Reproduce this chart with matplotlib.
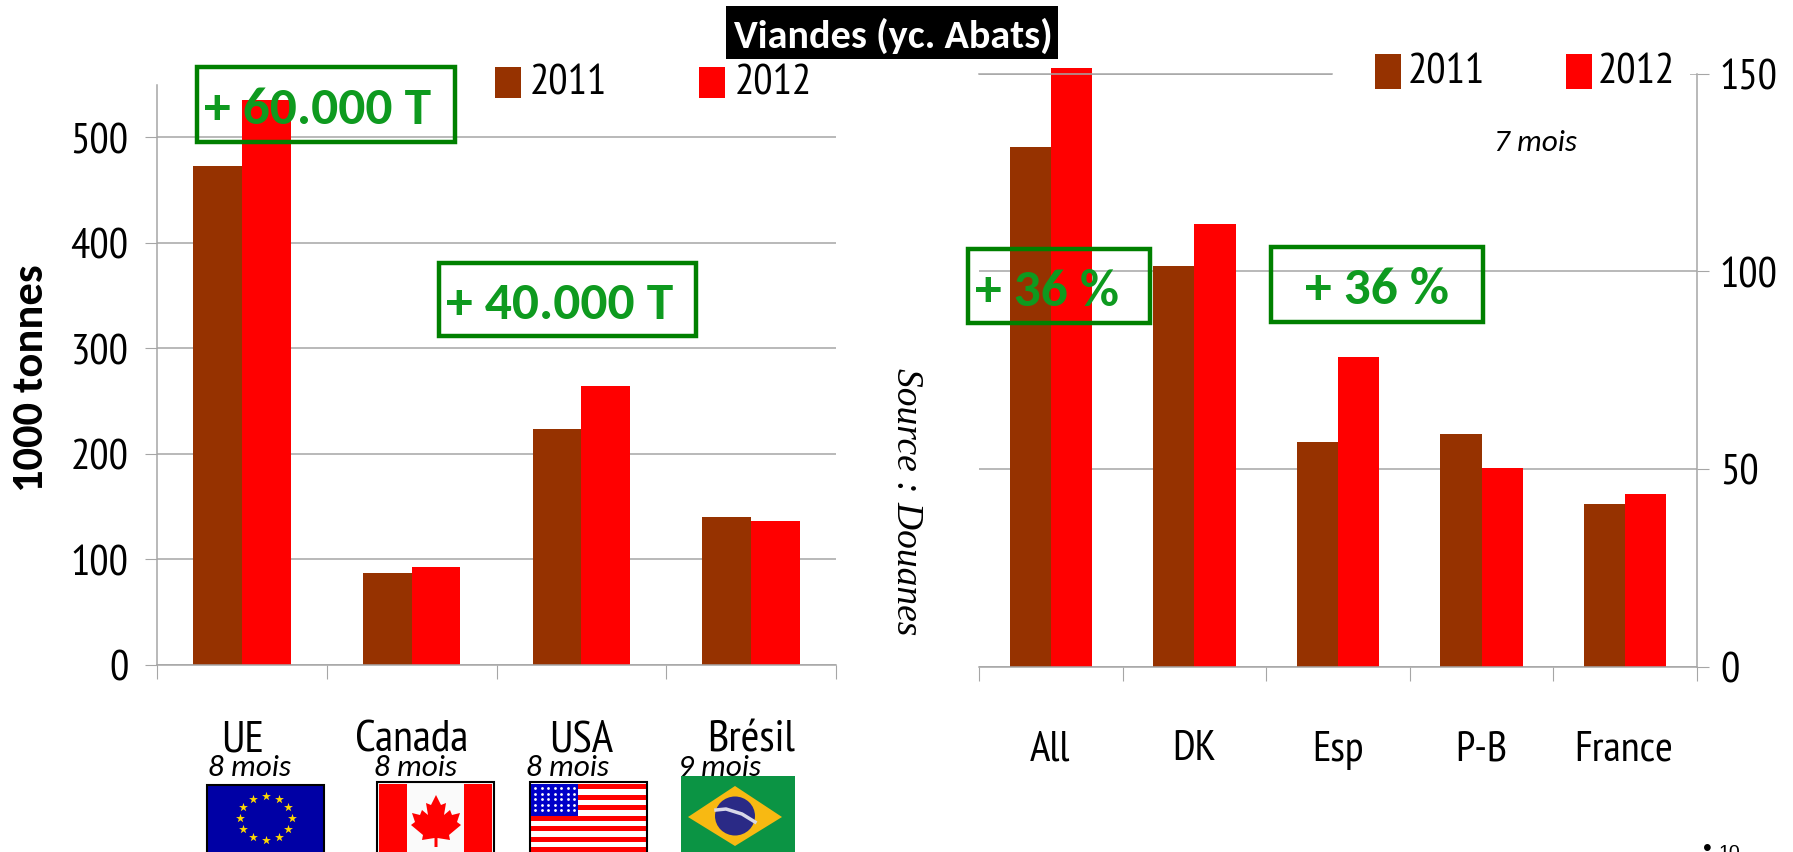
import numpy as np
import matplotlib
matplotlib.use('Agg')
import matplotlib.pyplot as plt
from matplotlib.patches import Rectangle, Polygon, Ellipse

NARROW = ['PT Sans Narrow', 'Liberation Sans', 'DejaVu Sans']
CALIBRI = ['Carlito', 'Open Sans', 'DejaVu Sans']
plt.rcParams['font.family'] = NARROW

# Data
countries = ['UE', 'Canada', 'USA', 'Brésil']
world_2011 = [473, 87, 224, 140]
world_2012 = [535, 93, 264, 136]
world_ticks = [0, 100, 200, 300, 400, 500]

origins = ['All', 'DK', 'Esp', 'P-B', 'France']
eu_2011 = [131.5, 101.3, 56.8, 58.8, 41.1]
eu_2012 = [151.5, 112, 78.2, 50.1, 43.7]
eu_ticks = [0, 50, 100, 150]

BROWN = '#963200'
RED = '#ff0000'
GREEN = '#0e9a1f'
BOX = '#008000'
GREY = '#a6a6a6'
W, H = 1793, 853

fig = plt.figure(figsize=(W / 100, H / 100), dpi=100, facecolor='white')


def make_axes(x0, x1, y_zero, y_top):
    return fig.add_axes([x0 / W, 1 - y_zero / H, (x1 - x0) / W, (y_zero - y_top) / H])


def style_axes(ax):
    for s in ['top', 'right', 'left', 'bottom']:
        ax.spines[s].set_color(GREY)
        ax.spines[s].set_linewidth(1.1)
    ax.spines['top'].set_visible(False)
    ax.grid(axis='y', color=GREY, lw=1.1)
    ax.set_axisbelow(True)
    ax.set_xticks(np.arange(ax.get_xlim()[0], ax.get_xlim()[1] + 0.5))
    ax.tick_params(axis='x', length=10, color=GREY, labelbottom=False)


# Left chart: world exporters
ax1 = make_axes(157, 836, 666, 85.5)
x1 = np.arange(len(countries))
ax1.bar(x1 - 0.143, world_2011, 0.287, color=BROWN)
ax1.bar(x1 + 0.143, world_2012, 0.287, color=RED)
ax1.set_xlim(-0.5, 3.5)
ax1.set_ylim(0, 550)
ax1.set_yticks(world_ticks)
style_axes(ax1)
ax1.spines['right'].set_visible(False)
ax1.tick_params(axis='y', length=8.5, color=GREY, labelsize=31, pad=12)
ax1.set_ylabel('1000 tonnes', fontsize=32, fontweight='bold', family=CALIBRI)
ax1.yaxis.set_label_coords(-0.157, 0.495)

# Right chart: EU origins
ax2 = make_axes(979, 1697, 667.5, 74.5)
x2 = np.arange(len(origins))
ax2.bar(x2 - 0.143, eu_2011, 0.287, color=BROWN, clip_on=False)
ax2.bar(x2 + 0.143, eu_2012, 0.287, color=RED, clip_on=False)
ax2.set_xlim(-0.5, 4.5)
ax2.set_ylim(0, 150)
ax2.set_yticks(eu_ticks)
style_axes(ax2)
ax2.spines['left'].set_visible(False)
ax2.yaxis.tick_right()
ax2.tick_params(axis='y', length=8.5, color=GREY, labelsize=31, pad=8)

# Overlay in pixel coordinates for everything pasted on the slide
ov = fig.add_axes([0, 0, 1, 1], zorder=5)
ov.set_xlim(0, W)
ov.set_ylim(H, 0)
ov.axis('off')
ov.patch.set_alpha(0)


def rect(x0, y0, x1, y1, **kw):
    kw.setdefault('lw', 0)
    ov.add_patch(Rectangle((x0, y0), x1 - x0, y1 - y0, **kw))


# title
rect(726, 7, 1058, 60, fc='black')
ov.text(893, 36, 'Viandes (yc. Abats)', color='white', fontsize=29, fontweight='bold',
        family=CALIBRI, ha='center', va='center')

# white patch that hides the top gridline under the right legend
rect(1332, 50, 1690, 95, fc='white')
ov.plot([979, 1332], [74.5, 74.5], color=GREY, lw=1.1)

# legends
for sx, tx, y0, y1 in [(495, 530, 68, 99), (1375, 1408, 55, 90)]:
    rect(sx, y0, sx + 26, y1, fc=BROWN)
    ov.text(tx, (y0 + y1) / 2, '2011', fontsize=31, va='center')
for sx, tx, y0, y1 in [(699, 735, 68, 99), (1566, 1598, 55, 90)]:
    rect(sx, y0, sx + 26, y1, fc=RED)
    ov.text(tx, (y0 + y1) / 2, '2012', fontsize=31, va='center')

# green boxes
boxes = [(197, 68, 455, 143, '+ 60.000 T', 204),
         (439, 264, 696, 337, '+ 40.000 T', 446),
         (968, 250, 1150, 324, '+ 36 %', 975),
         (1271, 248, 1483, 323, '+ 36 %', 1305)]
for x0, y0, x1_, y1, label, tx in boxes:
    rect(x0, y0, x1_, y1, fc='none', ec=BOX, lw=3.2)
    ov.text(tx, (y0 + y1) / 2 + 4, label, color=GREEN, fontsize=38.5, fontweight='bold',
            family=CALIBRI, va='center')

# category labels
for name, cx in zip(countries, [243, 412, 581, 751]):
    ov.text(cx, 740, name, fontsize=32.5, ha='center', va='center')
for name, cx in zip(origins, [1050, 1194, 1338, 1481, 1624]):
    ov.text(cx, 750, name, fontsize=31, ha='center', va='center')

# months
for label, cx in zip(['8 mois', '8 mois', '8 mois', '9 mois'], [249, 415, 568, 720]):
    ov.text(cx, 768, label, fontsize=22.5, style='italic', family=CALIBRI, ha='center', va='center')
ov.text(1535, 143, '7 mois', fontsize=22.5, style='italic', family=CALIBRI, ha='center', va='center')

ov.text(906, 502, 'Source : Douanes', fontsize=27, style='italic', family='Liberation Serif',
        rotation=270, ha='center', va='center')

# page number, cut by the edge of the slide
ov.text(1707, 849, '•', fontsize=18, family='Liberation Sans', ha='center', va='center', clip_on=False)
ov.text(1719, 845, '10', fontsize=14, family='Liberation Sans', va='top', clip_on=False)

# EU flag
rect(207, 786, 324, H + 2, fc='#0000a5', ec='black', lw=1.5)
ang = np.radians(np.arange(0, 360, 30))
ov.scatter(265.5 + 26 * np.cos(ang), 819 + 22 * np.sin(ang), marker='*', s=45, c='#ffd800', lw=0)

# Canada flag
rect(377, 783, 494, H + 2, fc='#fafafa', ec='black', lw=1.5)
rect(379, 785, 407, H + 2, fc=RED)
rect(464, 785, 492, H + 2, fc=RED)
leaf = np.array([[0, -24], [5, -14], [10, -16], [8, -4], [14, -9], [16, -4], [24, -6], [21, 3],
                 [25, 6], [13, 16], [14, 21], [1.5, 19], [1.5, 28], [-1.5, 28], [-1.5, 19],
                 [-14, 21], [-13, 16], [-25, 6], [-21, 3], [-24, -6], [-16, -4], [-14, -9],
                 [-8, -4], [-10, -16], [-5, -14]])
ov.add_patch(Polygon(leaf + [436, 820], fc=RED, lw=0))

# USA flag
rect(530, 783, 647, H + 2, fc='white', ec='black', lw=1.5)
for i in range(7):
    y = 785 + i * 10.5
    rect(531, y, 646, y + 5, fc=RED)
rect(531, 785, 578, 817, fc='#0000c8')
sx, sy = np.meshgrid(np.arange(535, 577, 6.5), np.arange(789, 816, 5.5))
ov.scatter(sx.ravel(), sy.ravel(), s=4, c='white', lw=0)

# Brazil flag
rect(681, 777, 795, H + 2, fc='#0b9444')
ov.add_patch(Polygon([[688, 818], [735, 787], [782, 818], [735, 847]], fc='#f8b912', lw=0))
ov.add_patch(Ellipse((735, 817), 40, 39, fc='#2a2a86', lw=0))
ov.plot([716, 726, 742, 755], [811, 810, 815, 823], color='#d8d8e8', lw=2.5)

fig.savefig('out.png', dpi=100, facecolor='white')
